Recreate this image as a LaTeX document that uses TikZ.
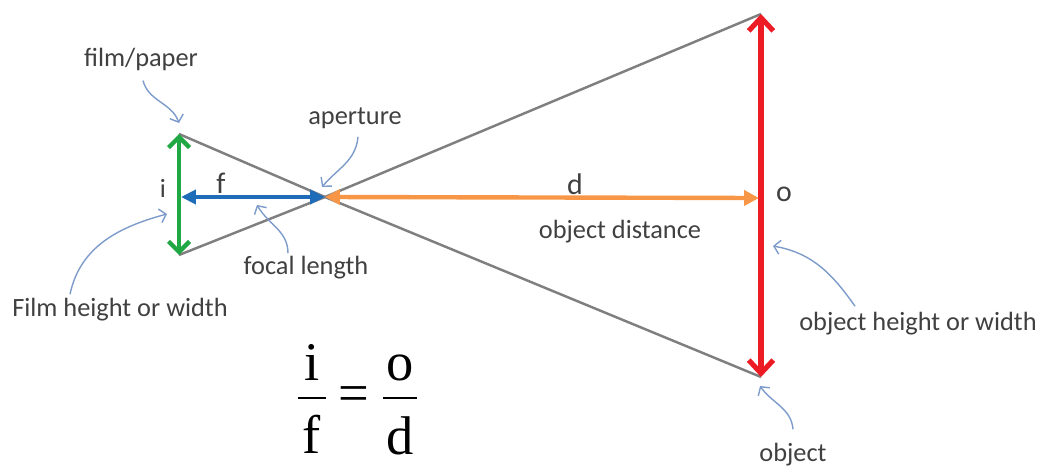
\documentclass[tikz,border=0pt]{standalone}
\usepackage{fontspec}
\setmainfont{Carlito}
\newfontfamily\eqfont{Liberation Serif}
\usetikzlibrary{arrows.meta}
\definecolor{raygray}{HTML}{7F7F7F}
\definecolor{filmgreen}{HTML}{1FA843}
\definecolor{focalblue}{HTML}{1F6DB8}
\definecolor{distorange}{HTML}{F79646}
\definecolor{objred}{HTML}{ED1C24}
\definecolor{callblue}{HTML}{7E9CCB}
\definecolor{txtgray}{HTML}{404040}

\begin{document}
\begin{tikzpicture}[x=0.02cm,y=-0.02cm,
  lbl/.style={font=\fontsize{15}{18}\selectfont, text=txtgray, inner sep=0pt},
  sym/.style={font=\fontsize{17}{20}\selectfont, text=txtgray, inner sep=0pt},
  eqtxt/.style={font=\eqfont\fontsize{31}{36}\selectfont, inner sep=0pt, anchor=base},
  rayline/.style={draw=raygray, line width=1.4pt},
  filmarr/.style={draw=filmgreen, line width=2.5pt,
    {Straight Barb[length=6pt,width=12pt]}-{Straight Barb[length=6pt,width=12pt]}},
  objarr/.style={draw=objred, line width=2.9pt,
    {Straight Barb[length=7.5pt,width=14pt]}-{Straight Barb[length=7.5pt,width=14pt]}},
  focalarr/.style={draw=focalblue, line width=2.3pt,
    {Triangle[length=8.5pt,width=8pt]}-{Triangle[length=8.5pt,width=8pt]}},
  distarr/.style={draw=distorange, line width=2.5pt,
    {Triangle[length=8.5pt,width=8.5pt]}-{Triangle[length=8.5pt,width=8.5pt]}},
  callout/.style={draw=callblue, line width=0.8pt, -{Straight Barb[length=3.5pt,width=8pt]}}]

  \useasboundingbox (0,0) rectangle (1041,466);

  % ends of film, object and the pinhole
  \coordinate (filmtop) at (179,134);
  \coordinate (filmbot) at (179,255);
  \coordinate (aperture) at (325,197);
  \coordinate (objtop) at (761,14);
  \coordinate (objbot) at (761,377);
  \coordinate (objmid) at (759,198);
  \coordinate (filmmid) at (181,197);

  % rays through the aperture
  \draw[rayline] (filmtop) -- (aperture) -- (objbot);
  \draw[rayline] (filmbot) -- (aperture) -- (objtop);

  % measured lengths
  \draw[filmarr] (filmtop) -- (filmbot);
  \draw[objarr] (objtop) -- (objbot);
  \draw[focalarr] (filmmid) -- (aperture);
  \draw[distarr] (aperture) -- (objmid);

  % letters
  \node[lbl] (ilbl) at (163,188) {i};
  \node[sym] (flbl) at (221,183) {f};
  \node[sym] (dlbl) at (575,184) {d};
  \node[sym] (olbl) at (784,194) {o};

  % descriptions
  \node[lbl] (paper)   at (141,59)  {film/paper};
  \node[lbl] (pinhole) at (355,118) {aperture};
  \node[lbl] (focal)   at (306,268) {focal length};
  \node[lbl] (dist)    at (620,232) {object distance};
  \node[lbl] (filmhw)  at (120,310) {Film height or width};
  \node[lbl] (objhw)   at (918,324) {object height or width};
  \node[lbl] (object)  at (793,455) {object};

  % pointers
  \coordinate (ptpaper) at (179,123);
  \coordinate (ptpinhole) at (322,187);
  \coordinate (ptfocal) at (257,205);
  \coordinate (ptfilmhw) at (167,214);
  \coordinate (ptobjhw) at (773,246);
  \coordinate (ptobject) at (760,386);
  \draw[callout] (paper.south) ++(2,10) to[out=-75,in=110] (ptpaper);
  \draw[callout] (pinhole.south) ++(3,8) to[out=-95,in=50] (ptpinhole);
  \draw[callout] (focal.north) ++(-18,-3) to[out=90,in=-60] (ptfocal);
  \draw[callout] (filmhw.north) ++(-50,-4) to[out=78,in=195] (ptfilmhw);
  \draw[callout] (objhw.north) ++(-63,-6) to[out=125,in=-10] (ptobjhw);
  \draw[callout] (object.north) ++(0,-14) to[out=95,in=-55] (ptobject);

  % the relation i/f = o/d
  \node[eqtxt] (numi) at (312,380) {i};
  \node[eqtxt] (denf) at (312,453) {f};
  \node[eqtxt] (numo) at (400,380) {o};
  \node[eqtxt] (dend) at (400,454) {d};
  \node[eqtxt, anchor=center] (equal) at (354,399) {=};
  \draw[line width=1.1pt] (298,398) -- (326,398);
  \draw[line width=1.1pt] (383,398) -- (417,398);

\end{tikzpicture}
\end{document}
